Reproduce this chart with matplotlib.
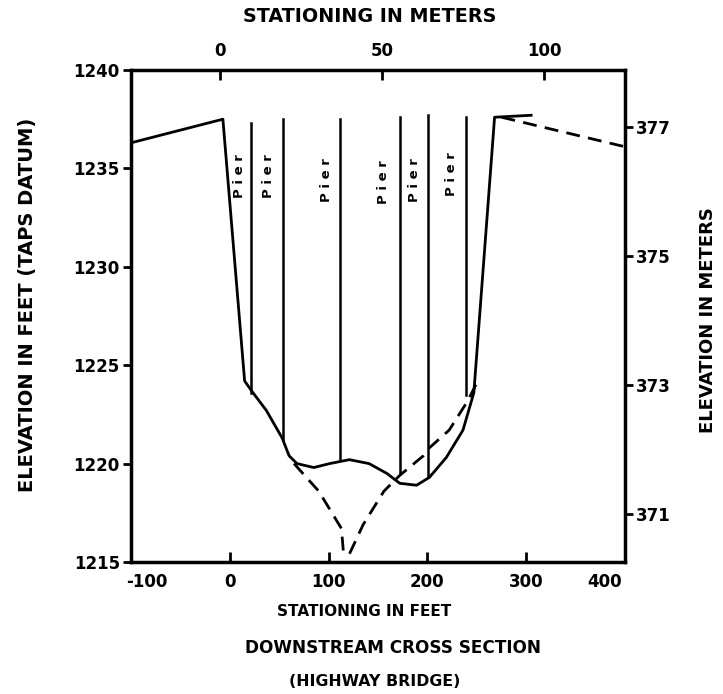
import numpy as np
import matplotlib
matplotlib.use("Agg")
import matplotlib.pyplot as plt
import matplotlib.transforms as mtransforms

# ground profile (solid), stationing in feet vs elevation in feet
ground_x = [-100, -7, 15, 22, 37, 53, 60, 68, 85, 101, 121, 141, 159, 172,
            189, 202, 219, 236, 247, 268, 305]
ground_y = [1236.3, 1237.5, 1224.2, 1223.7, 1222.7, 1221.3, 1220.4, 1220.0,
            1219.8, 1220.0, 1220.2, 1220.0, 1219.5, 1219.0, 1218.9, 1219.3,
            1220.3, 1221.7, 1223.6, 1237.6, 1237.7]

# scoured profile (dashed)
scour_x = [65, 90, 113, 115, 121, 135, 156, 172, 196, 202, 222, 241, 250]
scour_y = [1220.0, 1218.6, 1216.7, 1215.5, 1215.4, 1216.9, 1218.6, 1219.4,
           1220.4, 1220.8, 1221.7, 1223.2, 1224.1]
bank_x = [275, 400]
bank_y = [1237.6, 1236.1]

# piers
pier_x = [21, 53.5, 112, 172, 201, 239]
pier_top = [1237.3, 1237.5, 1237.5, 1237.6, 1237.7, 1237.6]
pier_bot = [1223.6, 1221.2, 1220.25, 1219.5, 1219.3, 1223.5]
pier_label_x = [10, 39.5, 98, 156, 187, 224]
pier_label_y = [1234.6, 1234.6, 1234.4, 1234.3, 1234.4, 1234.7]

xticks_ft = [-100, 0, 100, 200, 300, 400]
yticks_ft = [1215, 1220, 1225, 1230, 1235, 1240]
xticks_m = [0, 50, 100]
yticks_m = [371, 373, 375, 377]

plt.rcParams['font.family'] = ['DejaVu Sans']
plt.rcParams['font.weight'] = 'bold'
plt.rcParams['axes.unicode_minus'] = False

fig = plt.figure(figsize=(7.23, 6.94), dpi=100)
ax = fig.add_axes([131/723, 1-562/694, (625-131)/723, (562-70)/694])

lw = 2.0
ax.plot(ground_x, ground_y, color='black', lw=lw, solid_joinstyle='round')
ax.plot(scour_x, scour_y, color='black', lw=lw, dashes=(5, 3))
ax.plot(bank_x, bank_y, color='black', lw=lw, dashes=(5, 3))
for px, pt, pb in zip(pier_x, pier_top, pier_bot):
    ax.plot([px, px], [pb, pt], color='black', lw=1.8)
for lx, ly in zip(pier_label_x, pier_label_y):
    ax.text(lx, ly, 'P i e r', rotation=90, ha='center', va='center',
            fontsize=9.5, fontweight='bold')

ax.set_xlim(-100, 400)
ax.set_ylim(1215, 1240)
ax.set_xticks(xticks_ft)
ax.set_yticks(yticks_ft)
for s in ax.spines.values():
    s.set_linewidth(2.5)

ax.tick_params(axis='x', direction='in', length=7, width=2, pad=8,
               labelsize=12)
ax.tick_params(axis='y', direction='out', length=6, width=2, pad=2,
               labelsize=12)
xl = ax.get_xticklabels()
xl[0].set_transform(xl[0].get_transform() +
                    mtransforms.ScaledTranslation(0.16, 0, fig.dpi_scale_trans))
xl[-1].set_transform(xl[-1].get_transform() +
                     mtransforms.ScaledTranslation(-0.2, 0, fig.dpi_scale_trans))

# metric axes
top = ax.secondary_xaxis('top', functions=(lambda f: (f + 10) * 0.3048,
                                           lambda m: m / 0.3048 - 10))
top.set_xticks(xticks_m)
top.tick_params(direction='in', length=7, width=2, pad=7, labelsize=12)

right = ax.secondary_yaxis('right',
                           functions=(lambda f: (f - 1237.1) * 0.3048 + 377,
                                      lambda m: (m - 377) / 0.3048 + 1237.1))
right.set_yticks(yticks_m)
right.tick_params(direction='out', length=6, width=2, pad=2, labelsize=12)

fig.text(28/723, 1-305/694, 'ELEVATION IN FEET (TAPS DATUM)', rotation=90,
         ha='center', va='center', fontsize=14, fontweight='bold')
fig.text(708/723, 1-320/694, 'ELEVATION IN METERS', rotation=90,
         ha='center', va='center', fontsize=13, fontweight='bold')
fig.text(370/723, 1-17/694, 'STATIONING IN METERS',
         ha='center', va='center', fontsize=13.8, fontweight='bold')
fig.text(364/723, 1-611/694, 'STATIONING IN FEET',
         ha='center', va='center', fontsize=11, fontweight='bold')
fig.text(393/723, 1-648/694, 'DOWNSTREAM CROSS SECTION',
         ha='center', va='center', fontsize=12.2, fontweight='bold')
fig.text(375/723, 1-681/694, '(HIGHWAY BRIDGE)',
         ha='center', va='center', fontsize=11.3, fontweight='bold')

fig.savefig('out.png', dpi=100)
